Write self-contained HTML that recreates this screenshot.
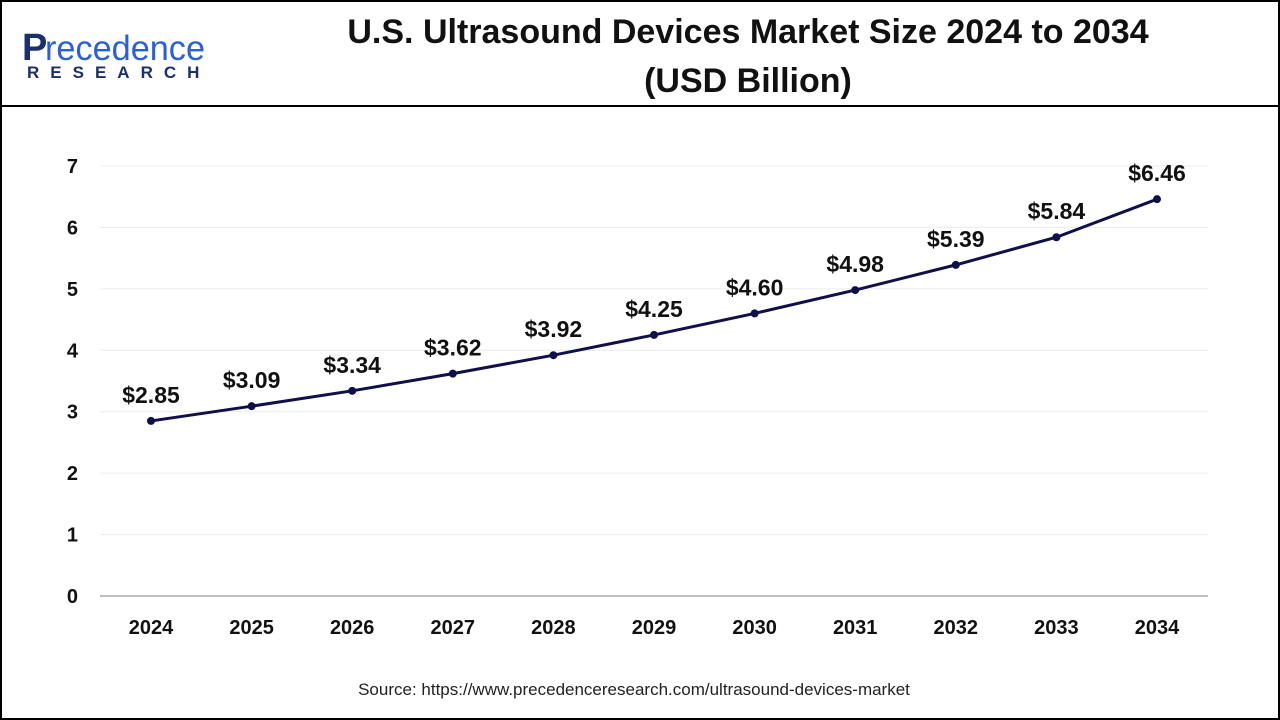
<!DOCTYPE html>
<html><head><meta charset="utf-8"><style>
body{margin:0;background:#fff;font-family:"Liberation Sans",sans-serif}
#wrap{position:relative;width:1280px;height:720px;overflow:hidden}
</style></head><body>
<div id="wrap">
<svg width="1280" height="720" id="svg">
<rect x="1" y="1" width="1278" height="718" fill="#fff" stroke="#000" stroke-width="2"/>
<line x1="0" y1="106" x2="1280" y2="106" stroke="#000" stroke-width="2"/>
<g>
<text x="22" y="60" font-size="38" fill="#1a2f6e" font-weight="bold">P</text>
<text x="45" y="60" font-size="35" fill="#2a5fd8" textLength="160" lengthAdjust="spacingAndGlyphs">recedence</text>
<text x="27" y="78" font-size="17" font-weight="bold" fill="#1a2f6e" letter-spacing="11">RESEARCH</text>
</g>
<text x="748" y="43" font-size="34" font-weight="bold" text-anchor="middle" fill="#111">U.S. Ultrasound Devices Market Size 2024 to 2034</text>
<text x="748" y="92" font-size="34" font-weight="bold" text-anchor="middle" fill="#111">(USD Billion)</text>
<g id="grid"></g><g id="plot"></g>
<text x="634" y="695" font-size="17" text-anchor="middle" fill="#222">Source: https://www.precedenceresearch.com/ultrasound-devices-market</text>
</svg>
</div>
<script>
const years=["2024","2025","2026","2027","2028","2029","2030","2031","2032","2033","2034"];
const values=[2.85,3.09,3.34,3.62,3.92,4.25,4.60,4.98,5.39,5.84,6.46];
const labels=["$2.85","$3.09","$3.34","$3.62","$3.92","$4.25","$4.60","$4.98","$5.39","$5.84","$6.46"];
const yTicks=[0,1,2,3,4,5,6,7];
const NS="http://www.w3.org/2000/svg";
const x=i=>151+i*100.6;
const y=v=>596-v*61.43;
const grid=document.getElementById('grid'),plot=document.getElementById('plot');
function mk(tag,at,parent){const e=document.createElementNS(NS,tag);for(const k in at)e.setAttribute(k,at[k]);parent.appendChild(e);return e;}
yTicks.forEach(t=>{
  if(t>0){const g=mk('line',{x1:100,x2:1208,y1:y(t),y2:y(t),stroke:'#ececec','stroke-width':1},grid);
  
  }
  const l=mk('text',{x:78,y:y(t)+7,'font-size':20,'font-weight':'bold','text-anchor':'end',fill:'#111'},grid);
  l.textContent=t;
  
  
});
const ax=mk('line',{x1:100,x2:1208,y1:596,y2:596,stroke:'#aaa','stroke-width':1.5},grid);


years.forEach((yr,i)=>{
  const t=mk('text',{x:x(i),y:634,'font-size':20,'font-weight':'bold','text-anchor':'middle',fill:'#111'},grid);
  t.textContent=yr;
  
  
});
const line=mk('polyline',{points:values.map((v,i)=>x(i)+','+y(v)).join(' '),fill:'none',stroke:'#0f0f4a','stroke-width':3},plot);


values.forEach((v,i)=>{
  const c=mk('circle',{cx:x(i),cy:y(v),r:4,fill:'#0f0f4a'},plot);
  
  
  const t=mk('text',{x:x(i),y:y(v)-18,'font-size':23,'font-weight':'bold','text-anchor':'middle',fill:'#111'},plot);
  t.textContent=labels[i];
  
  
});
</script>
</body></html>
